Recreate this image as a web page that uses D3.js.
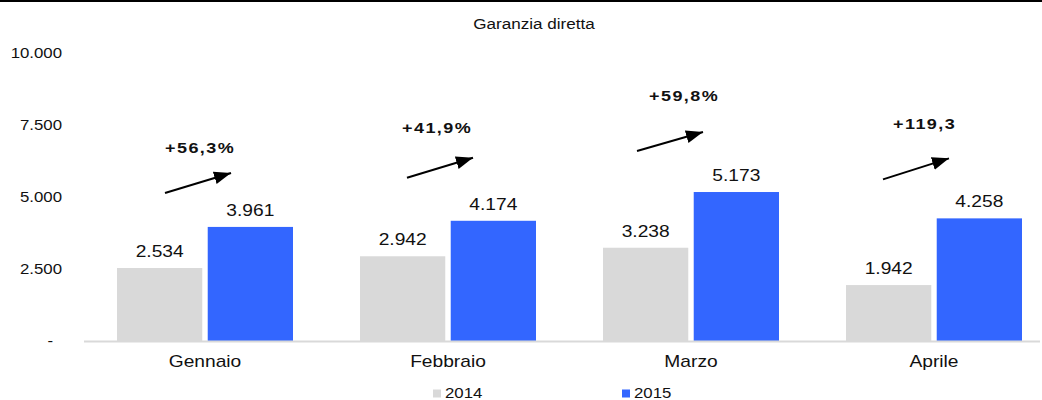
<!DOCTYPE html>
<html>
<head>
<meta charset="utf-8">
<script src="https://cdn.jsdelivr.net/npm/d3@7"></script>
<style>
  html, body { margin: 0; padding: 0; background: #fff; }
  svg { display: block; font-family: "Liberation Sans", Arial, sans-serif; }
</style>
</head>
<body>
<svg id="chart" width="1042" height="400"></svg>
<script>
// ---- data ----
const title = "Garanzia diretta";
const months = ["Gennaio", "Febbraio", "Marzo", "Aprile"];
const seriesNames = ["2014", "2015"];
const values2014 = [2534, 2942, 3238, 1942];
const values2015 = [3961, 4174, 5173, 4258];
const growthLabels = ["+56,3%", "+41,9%", "+59,8%", "+119,3"];
const yTicks = [0, 2500, 5000, 7500, 10000];

// ---- layout (pixel offsets of the annotation arrows, relative to group start / 2015 bar top) ----
const annotLayout = [
  { tx: 81.5, ty: -79, x1: 81.5, y1: -34, x2: 147.5, y2: -54 },
  { tx: 75.5, ty: -93, x1: 80.5, y1: -43, x2: 146.5, y2: -63 },
  { tx: 79.5, ty: -97, x1: 67.5, y1: -41, x2: 133.5, y2: -60 },
  { tx: 80.5, ty: -95, x1: 70.5, y1: -39, x2: 136.5, y2: -60 }
];
const colors = { "2014": "#d9d9d9", "2015": "#3366ff" };
const SX = 1.2; // horizontal stretch of the text in the reference

const svg = d3.select("#chart");
const seriesValues = { "2014": values2014, "2015": values2015 };

const x = d3.scaleBand().domain(months).range([83.5, 1055.5]).padding(0);
const x1 = d3.scaleBand().domain(seriesNames).range([33.5, 209.5]).paddingInner(0.06).paddingOuter(0);
const y = d3.scaleLinear().domain([0, 10000]).range([341, 53]);

const itFmt = d3.formatLocale({ decimal: ",", thousands: ".", grouping: [3], currency: ["€", ""] }).format(",.0f");
const fmt = v => v === 0 ? "-" : itFmt(v);

// top frame line
svg.append("line").attr("x1", 0).attr("x2", 1042).attr("y1", 1).attr("y2", 1)
  .attr("stroke", "#000").attr("stroke-width", 2);

// title
svg.append("text").text(title)
  .attr("transform", `translate(534,28.5) scale(1.18,1)`)
  .attr("text-anchor", "middle").attr("font-size", 14.5).attr("fill", "#111");

// y axis
const yAxis = d3.axisLeft(y).tickValues(yTicks).tickSize(0).tickPadding(0).tickFormat(fmt);
const gy = svg.append("g").attr("transform", "translate(62,0)").call(yAxis);
gy.select(".domain").remove();
gy.selectAll("text")
  .attr("font-size", 14).attr("fill", "#111").attr("font-family", null)
  .attr("x", d => d === 0 ? -9 / SX : 0)
  .attr("transform", `scale(${SX},1)`);

// bars
const groups = svg.append("g").selectAll("g").data(months).join("g")
  .attr("transform", d => `translate(${x(d)},0)`);

groups.selectAll("rect")
  .data((m, i) => seriesNames.map(s => ({ s, v: seriesValues[s][i] })))
  .join("rect")
  .attr("x", d => x1(d.s))
  .attr("width", x1.bandwidth())
  .attr("y", d => y(d.v))
  .attr("height", d => y(0) - y(d.v))
  .attr("fill", d => colors[d.s]);

groups.selectAll("text.val")
  .data((m, i) => seriesNames.map(s => ({ s, v: seriesValues[s][i] })))
  .join("text").attr("class", "val")
  .attr("transform", d => `translate(${x1(d.s) + x1.bandwidth() / 2},${y(d.v) - 11}) scale(${SX},1)`)
  .attr("text-anchor", "middle").attr("font-size", 16).attr("fill", "#111")
  .text(d => fmt(d.v));

// baseline
svg.append("line").attr("x1", 84).attr("x2", 1040).attr("y1", y(0) + 0.5).attr("y2", y(0) + 0.5)
  .attr("stroke", "#d9d9d9").attr("stroke-width", 2);

// x axis
const xAxis = d3.axisBottom(x).tickSize(0).tickPadding(0);
const gx = svg.append("g").attr("transform", `translate(0,${y(0)})`).call(xAxis);
gx.select(".domain").remove();
gx.selectAll("text")
  .attr("y", 26).attr("dy", null)
  .attr("font-size", 16).attr("fill", "#111").attr("font-family", null)
  .attr("transform", `scale(${SX},1)`);

// arrows marker
svg.append("defs").append("marker")
  .attr("id", "arrowhead").attr("markerUnits", "userSpaceOnUse")
  .attr("markerWidth", 18).attr("markerHeight", 14)
  .attr("refX", 17).attr("refY", 6.5).attr("orient", "auto")
  .append("path").attr("d", "M0,0 L17,6.5 L0,13 Z").attr("fill", "#000");

// growth annotations
months.forEach((m, i) => {
  const L = annotLayout[i];
  const bx = x(m);
  const top = y(values2015[i]);
  svg.append("line")
    .attr("x1", bx + L.x1).attr("y1", top + L.y1)
    .attr("x2", bx + L.x2).attr("y2", top + L.y2)
    .attr("stroke", "#000").attr("stroke-width", 2)
    .attr("marker-end", "url(#arrowhead)");
  svg.append("text").text(growthLabels[i])
    .attr("transform", `translate(${bx + L.tx},${top + L.ty + 5.5}) scale(${SX},1)`)
    .attr("font-size", 15).attr("font-weight", "bold").attr("letter-spacing", 1.2)
    .attr("fill", "#111");
});

// legend
const legendPos = [433, 622];
const lg = svg.append("g").selectAll("g").data(seriesNames).join("g")
  .attr("transform", (d, i) => `translate(${legendPos[i]},389.5)`);
lg.append("rect").attr("width", 8).attr("height", 8).attr("fill", d => colors[d]);
lg.append("text").text(d => d)
  .attr("transform", `translate(12,8) scale(${SX},1)`)
  .attr("font-size", 14).attr("fill", "#111");
</script>
</body>
</html>
